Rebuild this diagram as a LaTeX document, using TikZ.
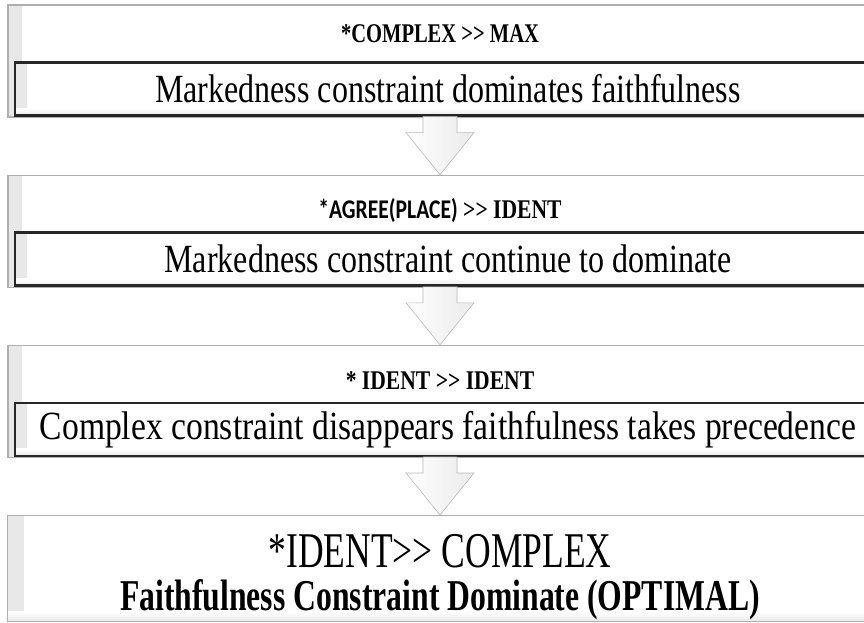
\documentclass[tikz,border=0pt]{standalone}
\usepackage{fontspec}
\setmainfont{Liberation Serif}
\newfontfamily\calfont{Carlito}
\usepackage{graphicx}
\usetikzlibrary{positioning,calc}
\definecolor{edgegray}{RGB}{175,175,175}
\definecolor{bevelgray}{RGB}{232,232,232}
\definecolor{darkedge}{RGB}{38,38,38}
\newcommand{\narrowtext}[2]{\scalebox{#1}[1]{#2}}
\tikzset{
  outerbox/.style={draw=edgegray, line width=1.2pt, fill=white, inner sep=0pt,
    minimum width=864pt, minimum height=112pt,
    path picture={\fill[left color=bevelgray, right color=white]
      (path picture bounding box.north west) rectangle ([xshift=14pt]path picture bounding box.south west);}},
  stepbox/.style={draw=darkedge, line width=2.4pt, fill=white, inner sep=0pt,
    minimum width=866pt, minimum height=53pt, font=\fontsize{40}{44}\selectfont,
    path picture={\fill[left color=bevelgray, right color=white]
      (path picture bounding box.north west) rectangle ([xshift=12pt]path picture bounding box.south west);
      \fill[top color=white, bottom color=bevelgray]
      ([yshift=7pt]path picture bounding box.south west) rectangle (path picture bounding box.south east);}},
  finalbox/.style={draw=edgegray, line width=1.2pt, fill=white, inner sep=0pt,
    minimum width=865pt, minimum height=106pt,
    path picture={\fill[left color=bevelgray, right color=white]
      (path picture bounding box.north west) rectangle ([xshift=16pt]path picture bounding box.south west);
      \fill[top color=white, bottom color=bevelgray]
      ([yshift=10pt]path picture bounding box.south west) rectangle (path picture bounding box.south east);}},
  rulelabel/.style={font=\bfseries\fontsize{27}{30}\selectfont, inner sep=0pt},
  blockarr/.style={draw=gray!55, line width=0.6pt, left color=white, right color=gray!16}
}

\begin{document}
\begin{tikzpicture}[x=1pt, y=1pt]
\clip (0,0) rectangle (864,-622);
\fill[white] (0,0) rectangle (864,-622);

\node[outerbox] (o1) at (440,-61) {};
\node[rulelabel] (l1) at ([yshift=-29pt]o1.north) {\narrowtext{0.76}{*COMPLEX >{}> MAX}};
\node[stepbox] (m1) at ([xshift=8pt,yshift=-84.5pt]o1.north)
  {\narrowtext{0.8}{Markedness constraint dominates faithfulness}};

\node[outerbox, below=57pt of o1] (o2) {};
\node[rulelabel] (l2) at ([yshift=-36pt]o2.north)
  {\narrowtext{0.8}{{\calfont *AGREE(PLACE)} >{}> IDENT}};
\node[stepbox] (m2) at ([xshift=8pt,yshift=-84.5pt]o2.north)
  {\narrowtext{0.8}{Markedness constraint continue to dominate}};

\node[outerbox, below=57pt of o2] (o3) {};
\node[rulelabel] (l3) at ([yshift=-36pt]o3.north) {\narrowtext{0.8}{* IDENT >{}> IDENT}};
\node[stepbox] (m3) at ([xshift=8pt,yshift=-84.5pt]o3.north)
  {\narrowtext{0.84}{Complex constraint disappears faithfulness takes precedence}};

\node[finalbox, below=57pt of o3] (o4) {};
\node[inner sep=0pt, font=\fontsize{50}{54}\selectfont] (fin1) at ([yshift=-36pt]o4.north)
  {\narrowtext{0.71}{*IDENT>{}> COMPLEX}};
\node[inner sep=0pt, font=\bfseries\fontsize{44}{48}\selectfont] (fin2) at ([yshift=-85pt]o4.north)
  {\narrowtext{0.72}{Faithfulness Constraint Dominate (OPTIMAL)}};

% block arrows between the steps
\foreach \a/\b in {m1/o2, m2/o3, m3/o4}{
  \coordinate (base) at (\b.north |- \a.south);
  \draw[blockarr] ([xshift=-17pt]base) |- ([xshift=-34pt,yshift=42pt]\b.north)
    -- (\b.north) -- ([xshift=34pt,yshift=42pt]\b.north) -| ([xshift=17pt]base) -- cycle;
}
\end{tikzpicture}
\end{document}
